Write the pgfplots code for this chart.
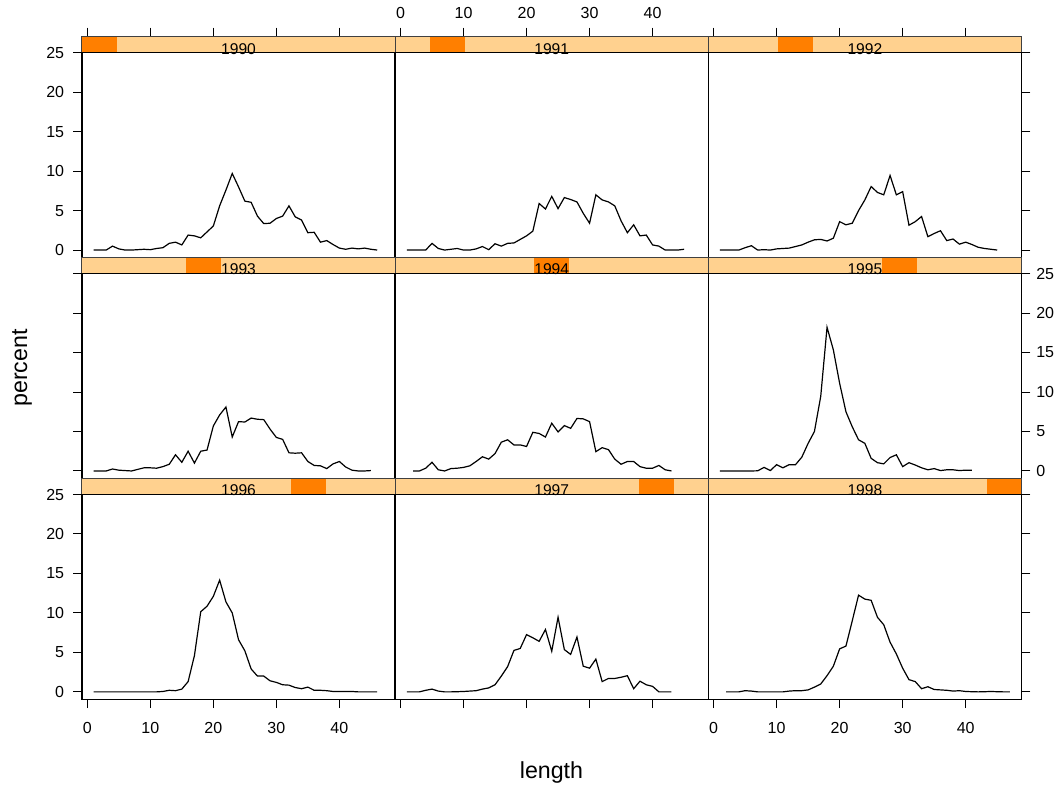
\documentclass[border=0pt]{standalone}
\usepackage{fontspec}
\setmainfont{Liberation Sans}
\usepackage{pgfplots}
\pgfplotsset{compat=1.18}
\definecolor{stripbg}{HTML}{FFD18F}
\definecolor{stripfg}{HTML}{FF7F00}
\newcommand\tickfont{\fontsize{8}{9.6}\selectfont}
\newcommand\stripfont{\fontsize{7.8}{9.4}\selectfont}
\pgfplotsset{
  panel/.style={scale only axis, width=156.55pt, height=102.35pt,
    xmin=-0.84, xmax=48.84, ymin=-0.93, ymax=25,
    axis line style={line width=0.7pt, black},
    xtick={0,10,20,30,40}, ytick={0,5,10,15,20,25},
    tick align=outside, major tick length=4.5pt,
    tick style={line width=0.5pt, black},
    ticklabel style={font=\tickfont},
    /pgf/number format/assume math mode=true,
    anchor=north west},
  nox/.style={xtick=\empty},
  xbottom/.style={xtick pos=left, xticklabel pos=left, xticklabel style={yshift=-3.7pt}},
  xbottomnolab/.style={xtick pos=left, xticklabels={}},
  noy/.style={ytick=\empty},
  yleft/.style={ytick pos=left, yticklabel pos=left, yticklabel style={xshift=-0.9pt}},
  yleftnolab/.style={ytick pos=left, yticklabels={}},
  yright/.style={ytick pos=right, yticklabel pos=right, yticklabel style={xshift=-0.6pt}},
  yrightnolab/.style={ytick pos=right, yticklabels={}},
  strip/.style={scale only axis, width=156.55pt, height=8pt,
    xmin=-0.84, xmax=48.84, ymin=0, ymax=1,
    xtick=\empty, ytick=\empty,
    axis background/.style={fill=stripbg},
    axis line style={draw=black!75, line width=0.5pt},
    axis on top, clip=false, anchor=south west,
    ticklabel style={font=\tickfont},
    /pgf/number format/assume math mode=true},
  topticks/.style={xtick={0,10,20,30,40}, xtick pos=right, tick align=outside,
    major tick length=4.5pt, tick style={line width=0.5pt, black}, xticklabels={}},
  toplabels/.style={xtick={0,10,20,30,40}, xtick pos=right, xticklabel pos=right,
    tick align=outside, major tick length=4.5pt, tick style={line width=0.5pt, black},
    xticklabel style={yshift=1.1pt}},
  dline/.style={black, line width=0.6pt, no marks},
}
\newcommand\stripcontent[2]{%
  \fill[stripfg] (rel axis cs:#1/9,0) rectangle (rel axis cs:#1/9+1/9,1);
  \node[font=\stripfont, inner sep=0pt, yshift=-2pt] at (rel axis cs:0.5,0.5) {#2};}
\begin{document}
\begin{tikzpicture}
\useasboundingbox (0,0) rectangle (528pt,-394.5pt);
% ---------------- row 0 ----------------
\begin{axis}[strip, topticks, at={(41pt,-26.35pt)}]
\stripcontent{0}{1990}
\end{axis}
\begin{axis}[panel, nox, yleft, at={(41pt,-26.35pt)}]
\addplot[dline] coordinates {(1,0)(2,0)(3,0)(4,0.5)(5,0.15)(6,0)(7,0)(8,0.05)(9,0.1)(10,0.05)(11,0.2)(12,0.3)(13,0.85)(14,1.0)(15,0.65)(16,1.9)(17,1.8)(18,1.55)(19,2.3)(20,3.05)(21,5.6)(22,7.6)(23,9.7)(24,8.0)(25,6.2)(26,6.05)(27,4.3)(28,3.35)(29,3.4)(30,4.0)(31,4.3)(32,5.6)(33,4.2)(34,3.8)(35,2.2)(36,2.25)(37,1.0)(38,1.2)(39,0.7)(40,0.25)(41,0.1)(42,0.25)(43,0.15)(44,0.25)(45,0.1)(46,0)};
\end{axis}
\begin{axis}[strip, toplabels, at={(197.6pt,-26.35pt)}]
\stripcontent{1}{1991}
\end{axis}
\begin{axis}[panel, nox, noy, at={(197.6pt,-26.35pt)}]
\addplot[dline] coordinates {(1,0)(2,0)(3,0)(4,0)(5,0.85)(6,0.2)(7,0)(8,0.1)(9,0.2)(10,0)(11,0)(12,0.15)(13,0.45)(14,0.05)(15,0.8)(16,0.5)(17,0.85)(18,0.9)(19,1.35)(20,1.8)(21,2.4)(22,5.9)(23,5.2)(24,6.8)(25,5.25)(26,6.65)(27,6.4)(28,6.1)(29,4.65)(30,3.4)(31,7.0)(32,6.35)(33,6.1)(34,5.6)(35,3.7)(36,2.2)(37,3.2)(38,1.8)(39,1.9)(40,0.65)(41,0.5)(42,0)(43,0)(44,0)(45,0.1)};
\end{axis}
\begin{axis}[strip, topticks, at={(354.15pt,-26.35pt)}]
\stripcontent{2}{1992}
\end{axis}
\begin{axis}[panel, nox, yrightnolab, at={(354.15pt,-26.35pt)}]
\addplot[dline] coordinates {(1,0)(2,0)(3,0)(4,0)(5,0.3)(6,0.55)(7,0)(8,0.05)(9,0)(10,0.15)(11,0.2)(12,0.25)(13,0.45)(14,0.65)(15,1.0)(16,1.3)(17,1.35)(18,1.15)(19,1.5)(20,3.6)(21,3.2)(22,3.4)(23,5.0)(24,6.35)(25,8.05)(26,7.3)(27,7.0)(28,9.45)(29,7.0)(30,7.4)(31,3.15)(32,3.6)(33,4.25)(34,1.7)(35,2.1)(36,2.45)(37,1.2)(38,1.4)(39,0.75)(40,1.0)(41,0.7)(42,0.35)(43,0.2)(44,0.1)(45,0)};
\end{axis}
% ---------------- row 1 ----------------
\begin{axis}[strip, at={(41pt,-136.8pt)}]
\stripcontent{3}{1993}
\end{axis}
\begin{axis}[panel, nox, yleftnolab, at={(41pt,-136.8pt)}]
\addplot[dline] coordinates {(1,0)(2,0)(3,0)(4,0.25)(5,0.1)(6,0.05)(7,0)(8,0.2)(9,0.4)(10,0.4)(11,0.35)(12,0.55)(13,0.85)(14,2.05)(15,1.1)(16,2.5)(17,1.0)(18,2.5)(19,2.65)(20,5.7)(21,7.1)(22,8.1)(23,4.3)(24,6.25)(25,6.2)(26,6.7)(27,6.55)(28,6.5)(29,5.3)(30,4.25)(31,4.0)(32,2.3)(33,2.25)(34,2.3)(35,1.2)(36,0.7)(37,0.65)(38,0.3)(39,0.9)(40,1.2)(41,0.5)(42,0.1)(43,0)(44,0)(45,0.05)};
\end{axis}
\begin{axis}[strip, at={(197.6pt,-136.8pt)}]
\stripcontent{4}{1994}
\end{axis}
\begin{axis}[panel, nox, noy, at={(197.6pt,-136.8pt)}]
\addplot[dline] coordinates {(2,0)(3,0)(4,0.35)(5,1.1)(6,0.15)(7,0)(8,0.3)(9,0.35)(10,0.45)(11,0.65)(12,1.2)(13,1.8)(14,1.5)(15,2.2)(16,3.65)(17,3.95)(18,3.3)(19,3.3)(20,3.1)(21,4.9)(22,4.75)(23,4.3)(24,6.05)(25,4.95)(26,5.75)(27,5.4)(28,6.65)(29,6.6)(30,6.25)(31,2.45)(32,2.95)(33,2.7)(34,1.5)(35,0.85)(36,1.2)(37,1.2)(38,0.55)(39,0.35)(40,0.35)(41,0.7)(42,0.15)(43,0)};
\end{axis}
\begin{axis}[strip, at={(354.15pt,-136.8pt)}]
\stripcontent{5}{1995}
\end{axis}
\begin{axis}[panel, nox, yright, at={(354.15pt,-136.8pt)}]
\addplot[dline] coordinates {(1,0)(2,0)(3,0)(4,0)(5,0)(6,0)(7,0.02)(8,0.45)(9,0.05)(10,0.8)(11,0.4)(12,0.8)(13,0.8)(14,1.75)(15,3.5)(16,5.0)(17,9.45)(18,18.2)(19,15.35)(20,11.1)(21,7.5)(22,5.6)(23,3.95)(24,3.5)(25,1.6)(26,1.05)(27,0.9)(28,1.7)(29,2.05)(30,0.55)(31,1.05)(32,0.75)(33,0.4)(34,0.15)(35,0.3)(36,0.05)(37,0.15)(38,0.15)(39,0.05)(40,0.1)(41,0.1)};
\end{axis}
% ---------------- row 2 ----------------
\begin{axis}[strip, at={(41pt,-247.25pt)}]
\stripcontent{6}{1996}
\end{axis}
\begin{axis}[panel, xbottom, yleft, at={(41pt,-247.25pt)}]
\addplot[dline] coordinates {(1,0)(2,0)(3,0)(4,0)(5,0)(6,0)(7,0)(8,0)(9,0)(10,0)(11,0)(12,0.05)(13,0.2)(14,0.15)(15,0.35)(16,1.3)(17,4.6)(18,10.15)(19,10.85)(20,12.1)(21,14.15)(22,11.4)(23,10.0)(24,6.6)(25,5.2)(26,2.9)(27,2.0)(28,2.0)(29,1.4)(30,1.2)(31,0.9)(32,0.85)(33,0.55)(34,0.4)(35,0.6)(36,0.2)(37,0.2)(38,0.15)(39,0.05)(40,0.05)(41,0.05)(42,0.05)(43,0)(44,0)(45,0)(46,0)};
\end{axis}
\begin{axis}[strip, at={(197.6pt,-247.25pt)}]
\stripcontent{7}{1997}
\end{axis}
\begin{axis}[panel, xbottomnolab, noy, at={(197.6pt,-247.25pt)}]
\addplot[dline] coordinates {(1,0)(2,0)(3,0)(4,0.2)(5,0.35)(6,0.1)(7,0)(8,0)(9,0.02)(10,0.05)(11,0.1)(12,0.15)(13,0.35)(14,0.5)(15,0.9)(16,2.0)(17,3.2)(18,5.25)(19,5.5)(20,7.25)(21,6.85)(22,6.4)(23,7.9)(24,5.15)(25,9.45)(26,5.35)(27,4.75)(28,6.95)(29,3.25)(30,3.0)(31,4.15)(32,1.3)(33,1.7)(34,1.7)(35,1.85)(36,2.05)(37,0.4)(38,1.35)(39,0.9)(40,0.7)(41,0)(42,0)(43,0)};
\end{axis}
\begin{axis}[strip, at={(354.15pt,-247.25pt)}]
\stripcontent{8}{1998}
\end{axis}
\begin{axis}[panel, xbottom, yrightnolab, at={(354.15pt,-247.25pt)}]
\addplot[dline] coordinates {(2,0)(3,0)(4,0)(5,0.15)(6,0.1)(7,0)(8,0)(9,0)(10,0)(11,0)(12,0.1)(13,0.15)(14,0.15)(15,0.25)(16,0.6)(17,1.0)(18,2.05)(19,3.25)(20,5.45)(21,5.8)(22,9.0)(23,12.25)(24,11.75)(25,11.6)(26,9.45)(27,8.5)(28,6.3)(29,4.8)(30,3.0)(31,1.55)(32,1.3)(33,0.4)(34,0.65)(35,0.3)(36,0.25)(37,0.2)(38,0.1)(39,0.15)(40,0.05)(41,0.02)(42,0)(43,0.02)(44,0.05)(45,0.02)(46,0)(47,0)};
\end{axis}
% ---------------- labels ----------------
\node[font=\fontsize{11.6}{14}\selectfont, anchor=base] at (275.75pt,-389.15pt) {length};
\node[font=\fontsize{11.6}{14}\selectfont, anchor=base, rotate=90] at (13.5pt,-184pt) {percent};
\end{tikzpicture}
\end{document}
